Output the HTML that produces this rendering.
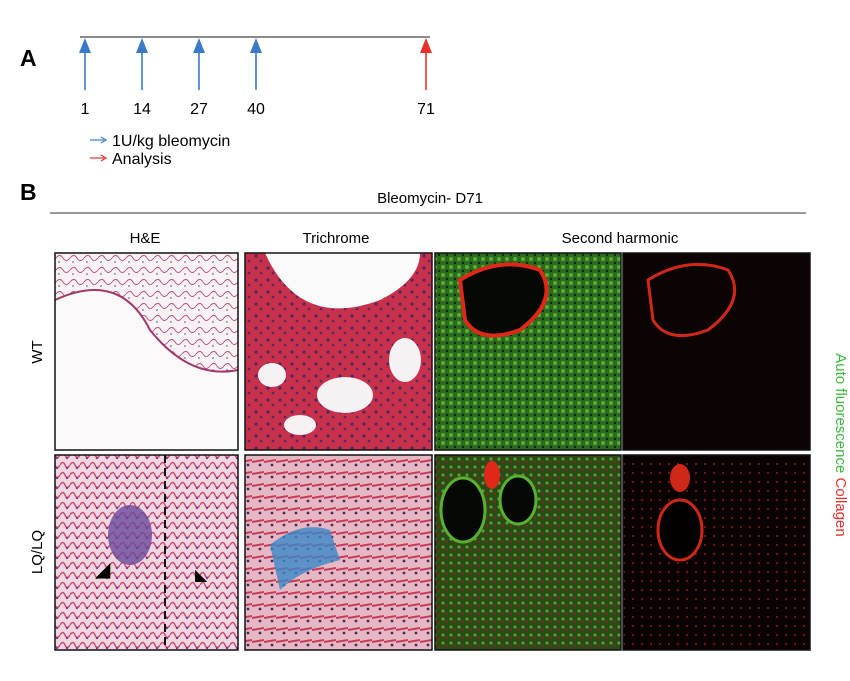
<!DOCTYPE html>
<html><head><meta charset="utf-8"><style>
body{margin:0;background:#fff;width:850px;height:676px;overflow:hidden;font-family:"Liberation Sans",Arial,sans-serif}
</style></head><body>
<svg width="850" height="676" xmlns="http://www.w3.org/2000/svg" font-family="Liberation Sans, Arial, sans-serif">
<defs>
<pattern id="he1" width="14" height="12" patternUnits="userSpaceOnUse"><rect width="14" height="12" fill="#f8f2f5"/><path d="M0 6 Q4 1 7 6 T14 6" stroke="#b85080" stroke-width="0.9" fill="none"/><circle cx="3" cy="10" r="0.8" fill="#6a3a8a"/></pattern>
<pattern id="he2" width="10" height="10" patternUnits="userSpaceOnUse"><rect width="10" height="10" fill="#f0d8e0"/><path d="M0 5 Q3 0 5 5 T10 5" stroke="#d04a78" stroke-width="1.5" fill="none"/><circle cx="7" cy="8" r="1.2" fill="#7a3a8a"/></pattern>
<pattern id="tri" width="12" height="12" patternUnits="userSpaceOnUse"><rect width="12" height="12" fill="#c8304c"/><circle cx="4" cy="4" r="1.6" fill="#4a2860"/><circle cx="9" cy="9" r="1.4" fill="#5a2a60"/></pattern>
<pattern id="tri2" width="12" height="12" patternUnits="userSpaceOnUse"><rect width="12" height="12" fill="#e6b8c4"/><path d="M0 6 L12 4" stroke="#c83a5a" stroke-width="2"/><circle cx="8" cy="9" r="1.4" fill="#4a2860"/></pattern>
<pattern id="sh" width="8" height="8" patternUnits="userSpaceOnUse"><rect width="8" height="8" fill="#2c6a20"/><circle cx="3" cy="3" r="2" fill="#58b030"/><circle cx="7" cy="7" r="1.2" fill="#0c2a08"/></pattern>
<pattern id="sh2" width="8" height="8" patternUnits="userSpaceOnUse"><rect width="8" height="8" fill="#2a4a18"/><circle cx="3" cy="3" r="1.6" fill="#5a9a30"/><circle cx="7" cy="6" r="1" fill="#a02010"/></pattern>
<pattern id="col2" width="9" height="9" patternUnits="userSpaceOnUse"><rect width="9" height="9" fill="#0a0202"/><circle cx="3" cy="5" r="0.9" fill="#c02010"/></pattern>
</defs>

<text x="20" y="66" font-size="23" font-weight="bold">A</text>
<line x1="80" y1="37" x2="430" y2="37" stroke="#444" stroke-width="1.3"/>
<g id="arrows"></g>
<g>
<g><line x1="90" y1="140" x2="104" y2="140" stroke="#3a7ac8" stroke-width="1.2"/><path d="M101 137 L106 140 L101 143" stroke="#3a7ac8" fill="none" stroke-width="1.2"/></g>
<text x="112" y="146" font-size="16">1U/kg bleomycin</text>
<g><line x1="90" y1="158" x2="104" y2="158" stroke="#e8302a" stroke-width="1.2"/><path d="M101 155 L106 158 L101 161" stroke="#e8302a" fill="none" stroke-width="1.2"/></g>
<text x="112" y="164" font-size="16">Analysis</text>
</g>

<text x="20" y="200" font-size="23" font-weight="bold">B</text>
<text x="430" y="203" font-size="15" text-anchor="middle">Bleomycin- D71</text>
<line x1="50" y1="213" x2="806" y2="213" stroke="#333" stroke-width="1"/>
<text x="145" y="243" font-size="15" text-anchor="middle">H&amp;E</text>
<text x="336" y="243" font-size="15" text-anchor="middle">Trichrome</text>
<text x="620" y="243" font-size="15" text-anchor="middle">Second harmonic</text>
<text transform="translate(42,352) rotate(-90)" font-size="15" text-anchor="middle">WT</text>
<text transform="translate(42,552) rotate(-90)" font-size="15" text-anchor="middle">LQ/LQ</text>
<text transform="translate(836,445) rotate(90)" font-size="15" text-anchor="middle"><tspan fill="#3cb83c">Auto fluorescence </tspan><tspan fill="#e8302a">Collagen</tspan></text>

<g>
<rect x="55" y="253" width="183" height="197" fill="url(#he1)"/>
<path d="M55 300 Q120 270 150 330 Q190 380 238 370 L238 450 L55 450Z" fill="#fbf9fa"/>
<path d="M55 300 Q120 270 150 330 Q190 380 238 370" stroke="#a03868" stroke-width="2" fill="none"/>
<rect x="55" y="253" width="183" height="197" fill="none" stroke="#111" stroke-width="1.5"/>
</g>
<g>
<rect x="245" y="253" width="187" height="197" fill="url(#tri)"/>
<path d="M265 253 Q300 330 380 300 Q420 280 420 253Z" fill="#fafafa"/>
<ellipse cx="345" cy="395" rx="28" ry="18" fill="#f6f2f4"/><ellipse cx="272" cy="375" rx="14" ry="12" fill="#f6f2f4"/>
<ellipse cx="405" cy="360" rx="16" ry="22" fill="#f6f2f4"/><ellipse cx="300" cy="425" rx="16" ry="10" fill="#f6f2f4"/>
<rect x="245" y="253" width="187" height="197" fill="none" stroke="#111" stroke-width="1.5"/>
</g>
<g>
<rect x="435" y="253" width="186" height="197" fill="url(#sh)"/>
<path d="M460 280 Q500 255 540 270 Q560 300 520 330 Q480 345 465 320Z" fill="#050805" stroke="#e02818" stroke-width="4"/>
<rect x="435" y="253" width="186" height="197" fill="none" stroke="#111" stroke-width="1.5"/>
</g>
<g>
<rect x="623" y="253" width="187" height="197" fill="#0c0303"/>
<path d="M648 280 Q688 255 728 270 Q748 300 708 330 Q668 345 653 320Z" fill="none" stroke="#d02818" stroke-width="3"/>
<rect x="623" y="253" width="187" height="197" fill="none" stroke="#111" stroke-width="1.5"/>
</g>
<g>
<rect x="55" y="455" width="183" height="195" fill="url(#he2)"/>
<ellipse cx="130" cy="535" rx="22" ry="30" fill="#6a4a9a" opacity="0.8"/>
<line x1="165" y1="455" x2="165" y2="650" stroke="#111" stroke-width="2" stroke-dasharray="8 5"/>
<text x="95" y="576" font-size="20">◢</text>
<text x="195" y="580" font-size="16">◣</text>
<rect x="55" y="455" width="183" height="195" fill="none" stroke="#111" stroke-width="1.5"/>
</g>
<g>
<rect x="245" y="455" width="187" height="195" fill="url(#tri2)"/>
<path d="M270 545 Q300 520 330 530 L340 560 Q300 570 280 590Z" fill="#3a88c8" opacity="0.8"/>
<rect x="245" y="455" width="187" height="195" fill="none" stroke="#111" stroke-width="1.5"/>
</g>
<g>
<rect x="435" y="455" width="186" height="195" fill="url(#sh2)"/>
<ellipse cx="463" cy="510" rx="22" ry="32" fill="#050805" stroke="#58b030" stroke-width="3"/>
<ellipse cx="518" cy="500" rx="18" ry="24" fill="#050805" stroke="#58b030" stroke-width="3"/>
<ellipse cx="492" cy="475" rx="8" ry="14" fill="#e02818"/>
<rect x="435" y="455" width="186" height="195" fill="none" stroke="#111" stroke-width="1.5"/>
</g>
<g>
<rect x="623" y="455" width="187" height="195" fill="url(#col2)"/>
<ellipse cx="680" cy="530" rx="22" ry="30" fill="#050000" stroke="#d02818" stroke-width="3"/>
<ellipse cx="680" cy="478" rx="10" ry="14" fill="#d02818"/>
<rect x="623" y="455" width="187" height="195" fill="none" stroke="#111" stroke-width="1.5"/>
</g>
</svg>
<script>
const days=[1,14,27,40,71];
const kinds=["dose","dose","dose","dose","analysis"];
// broken (non-linear) timeline axis as drawn in the figure
const x=d=>d<=40 ? 85+(d-1)*171/39 : 256+(d-40)*170/31;
const g=document.getElementById('arrows');
const ns="http://www.w3.org/2000/svg";
days.forEach((d,i)=>{
 const c=kinds[i]==="dose"?"#3a7ac8":"#e8302a";
 const xx=x(d);
 const l=document.createElementNS(ns,'line');
 
 
 l.setAttribute('x1',xx);l.setAttribute('x2',xx);l.setAttribute('y1',50);l.setAttribute('y2',90);
 l.setAttribute('stroke',c);l.setAttribute('stroke-width',1.6);g.appendChild(l);
 const p=document.createElementNS(ns,'polygon');
 
 
 p.setAttribute('points',`${xx},38 ${xx-6},53 ${xx+6},53`);p.setAttribute('fill',c);g.appendChild(p);
 const t=document.createElementNS(ns,'text');
 
 
 t.setAttribute('x',xx);t.setAttribute('y',114);t.setAttribute('font-size',16);t.setAttribute('text-anchor','middle');
 t.textContent=d;g.appendChild(t);
});
</script>
</body></html>
